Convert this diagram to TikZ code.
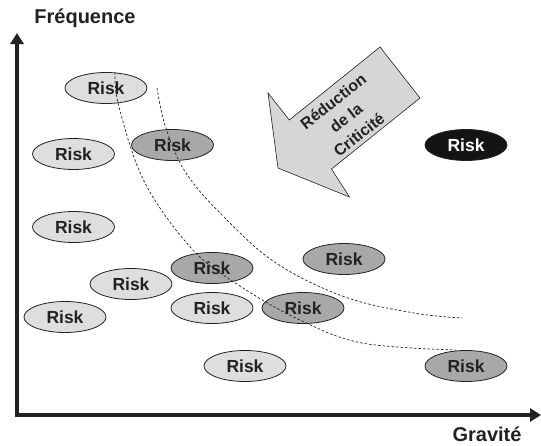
\documentclass[tikz,border=0pt]{standalone}
\usepackage{fontspec}
\setmainfont{Liberation Sans}
\usetikzlibrary{shapes.geometric,arrows.meta}
\definecolor{riskLight}{HTML}{DEDEDE}
\definecolor{riskDark}{HTML}{A8A8A8}
\definecolor{riskBlack}{HTML}{141414}
\definecolor{arrowFill}{HTML}{D6D6D6}
\definecolor{ink}{HTML}{222222}
\tikzset{
  risk/.style={ellipse, draw=ink, line width=0.8pt, minimum width=82pt,
    minimum height=31pt, inner sep=0pt, text=ink,
    font=\fontsize{17.5}{20}\selectfont\bfseries},
  lightrisk/.style={risk, fill=riskLight},
  darkrisk/.style={risk, fill=riskDark},
  blackrisk/.style={risk, fill=riskBlack, text=white},
  axis/.style={line width=4pt, draw=ink, -{Triangle[length=11pt,width=13pt]}},
  isoline/.style={draw=ink, line width=0.7pt, dash pattern=on 2.5pt off 2pt},
  axislabel/.style={text=ink, inner sep=1pt, font=\fontsize{20}{22}\selectfont\bfseries}
}
\begin{document}
\begin{tikzpicture}[x=1pt,y=-1pt]
\useasboundingbox (0,0) rectangle (541,445);

% axes
\coordinate (O) at (17,415);
\coordinate (ytop) at (17,33);
\coordinate (xend) at (541,415);
\draw[axis] (O) -- (ytop);
\draw[axis] ([xshift=-2pt]O) -- (xend);
\node[axislabel] (freq) at (85,18) {Fréquence};
\node[axislabel] (grav) at (487,434) {Gravité};

% reduction arrow
\draw[fill=arrowFill, draw=ink, line width=0.6pt]
  (380,47) -- (420,98) -- (331.5,169) -- (349.5,197) -- (278,168)
  -- (268,93) -- (289.3,120) -- cycle;
\node[rotate=38, align=center, text=ink,
  font=\fontsize{16}{21}\selectfont\bfseries] (red) at (346,118)
  {Réduction\\de la\\Criticité};

% risks
\node[lightrisk] (r1) at (106,88) {Risk};
\node[lightrisk] (r2) at (73.5,154) {Risk};
\node[darkrisk]  (r3) at (172.5,145) {Risk};
\node[blackrisk] (r4) at (466,145) {Risk};
\node[lightrisk] (r5) at (73.5,227) {Risk};
\node[lightrisk] (r7) at (131,284) {Risk};
\node[darkrisk]  (r6) at (212,268) {Risk};
\node[darkrisk]  (r8) at (344,259) {Risk};
\node[lightrisk] (r9) at (65,317) {Risk};
\node[lightrisk] (r10) at (212,308) {Risk};
\node[darkrisk]  (r11) at (303,308) {Risk};
\node[lightrisk] (r12) at (245,366) {Risk};
\node[darkrisk]  (r13) at (466,366) {Risk};

% iso-criticality curves
\draw[isoline] plot[smooth, tension=0.6] coordinates
  {(115,72) (119,107) (145,183) (193,250) (241.5,287) (300,320) (362,343) (455.5,350)};
\draw[isoline] plot[smooth, tension=0.6] coordinates
  {(157,88) (165.6,127) (186,173) (224,217) (276,263) (345,297) (414,313) (462,318)};
\end{tikzpicture}
\end{document}
